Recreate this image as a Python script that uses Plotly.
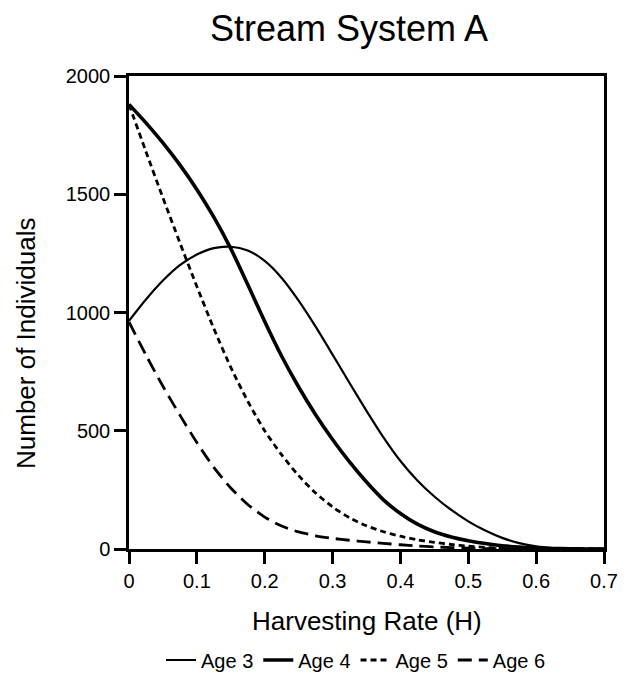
import plotly.graph_objects as go

harvest = [0, 0.025, 0.05, 0.075, 0.1, 0.125, 0.15, 0.175, 0.2, 0.225, 0.25, 0.275,
           0.3, 0.325, 0.35, 0.375, 0.4, 0.425, 0.45, 0.475, 0.5, 0.525, 0.55, 0.575,
           0.6, 0.625, 0.65, 0.675, 0.7]

age3 = [965, 1055, 1135, 1200, 1245, 1272, 1278, 1262, 1218, 1146, 1050, 940,
        822, 702, 584, 472, 372, 290, 222, 165, 117, 78, 47, 25,
        11, 4, 1, 0, 0]
age4 = [1880, 1802, 1717, 1624, 1520, 1403, 1270, 1118, 962, 815, 685, 568,
        463, 368, 283, 208, 150, 105, 73, 51, 35, 23, 14, 8,
        4, 2, 1, 0, 0]
age5 = [1880, 1680, 1485, 1295, 1110, 932, 768, 625, 500, 398, 310, 237,
        178, 132, 98, 73, 54, 39, 28, 19, 12, 7, 3, 1,
        0, 0, 0, 0, 0]
age6 = [960, 820, 688, 566, 450, 345, 258, 188, 135, 97, 72, 56,
        45, 37, 30, 24, 18, 13, 9, 6, 4, 2, 1, 0,
        0, 0, 0, 0, 0]

x_ticks = [0, 0.1, 0.2, 0.3, 0.4, 0.5, 0.6, 0.7]
x_tick_labels = ["0", "0.1", "0.2", "0.3", "0.4", "0.5", "0.6", "0.7"]
y_ticks = [0, 500, 1000, 1500, 2000]
y_tick_labels = ["0", "500", "1000", "1500", "2000"]

FONT = "Liberation Sans, Arial, sans-serif"

series = [
    ("Age 3", age3, dict(color="black", width=2.2, dash="solid")),
    ("Age 4", age4, dict(color="black", width=3.6, dash="solid")),
    ("Age 5", age5, dict(color="black", width=2.8, dash="6px,4px")),
    ("Age 6", age6, dict(color="black", width=2.8, dash="14px,7px")),
]

fig = go.Figure()
for name, vals, line in series:
    fig.add_trace(go.Scatter(
        x=harvest, y=vals, name=name, mode="lines",
        line=dict(shape="spline", smoothing=0.7, **line),
    ))

axis_common = dict(
    showgrid=False, zeroline=False, showline=True, linecolor="black",
    linewidth=2.5, mirror=True, ticks="outside", ticklen=12, tickwidth=2.5,
    tickcolor="black", tickfont=dict(family=FONT, size=20, color="black"),
)

fig.update_layout(
    width=636, height=678,
    margin=dict(l=129, r=32, t=76, b=129),
    paper_bgcolor="white", plot_bgcolor="white",
    font=dict(family=FONT, color="black"),
    title=dict(text="Stream System A", x=349 / 636, xanchor="center",
               y=1 - 28 / 678, yanchor="middle", yref="container",
               font=dict(family=FONT, size=36, color="black")),
    xaxis=dict(range=[0, 0.7], tickvals=x_ticks, ticktext=x_tick_labels, **axis_common),
    yaxis=dict(range=[0, 2000], tickvals=y_ticks, ticktext=y_tick_labels, **axis_common),
    showlegend=True,
    legend=dict(orientation="h", x=356 / 636, xref="container", xanchor="center",
                y=1 - 660 / 678, yref="container", yanchor="middle",
                font=dict(family=FONT, size=20, color="black"),
                itemwidth=30, tracegroupgap=0, bgcolor="rgba(0,0,0,0)"),
    annotations=[
        dict(text="Harvesting Rate (H)", xref="paper", yref="paper",
             x=0.5, y=(549 - 621) / 473, xanchor="center", yanchor="middle",
             showarrow=False, font=dict(family=FONT, size=26, color="black")),
        dict(text="Number of Individuals", xref="paper", yref="paper",
             x=(26 - 129) / 475, y=(549 - 344) / 473, xanchor="center", yanchor="middle",
             textangle=-90, showarrow=False,
             font=dict(family=FONT, size=26, color="black")),
    ],
)

fig.write_html("out.html")
